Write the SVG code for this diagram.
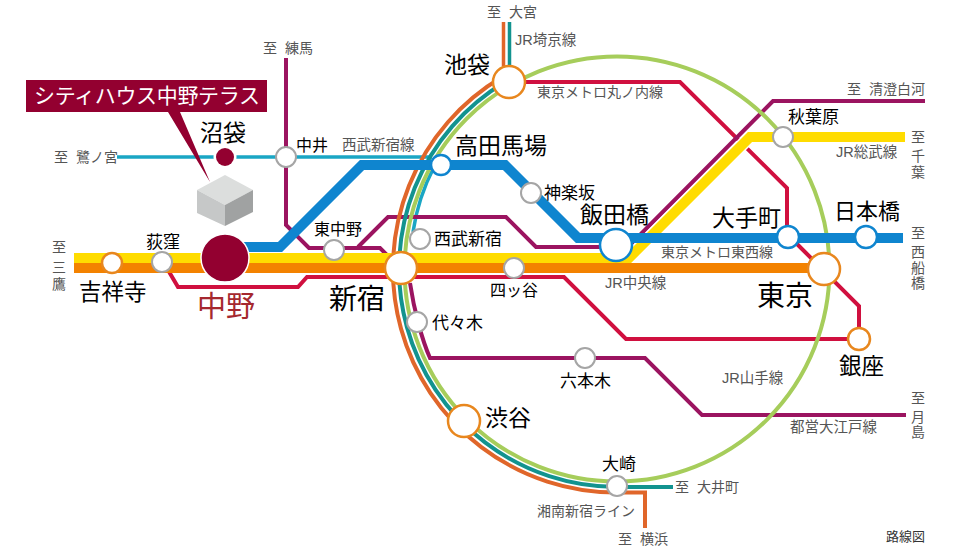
<svg xmlns="http://www.w3.org/2000/svg" width="960" height="550" viewBox="0 0 960 550">
<style>
text{font-family:"Liberation Sans","Noto Sans CJK JP",sans-serif;fill:#000}
.g{fill:#555;word-spacing:4px}
.s13{font-size:13px}.s14{font-size:14px}.s16{font-size:16px}.s17{font-size:17px}.s22{font-size:22.5px}.s23{font-size:23px}.s28{font-size:28px}
.l{fill:none;stroke-linejoin:miter}
.cy{stroke:#1aa6c4;stroke-width:3.5}
.lm{stroke:#a6cd5b;stroke-width:4}
.te{stroke:#12938f;stroke-width:4}
.oe{stroke:#e0662a;stroke-width:4}
.v{stroke-width:3.500}
.pu{stroke:#9b1460;stroke-width:4}
.re{stroke:#d0103f;stroke-width:4}
.or{stroke:#f38200;stroke-width:10}
.ye{stroke:#ffdc00;stroke-width:10}
.bl{stroke:#0f85cf;stroke-width:10}
circle{fill:#fff;stroke-width:2}
.sg{stroke:#a5a5a5}
.so{stroke:#e8871e;stroke-width:2.5}
.sb{stroke:#0f85cf;stroke-width:2.5}
</style>
<g id="connectors">
<path class="l cy" d="M117,157H432"/>
<path class="l cy" d="M434,167A207,207 0 0 0 413,232"/>
<path class="l re" d="M525,82H680L787,188V237M795,242L859,306V339H626L564,277H307L298,287H178L168,270"/>
<path class="l pu" d="M286,58V225L309,248H380L392,260M358,247L388,217H506L536,247H628L773,101H925"/>
<path class="l pu" d="M410,283C414,310 422,340 430,358H645L702,415H906"/>
<path class="l lm" d="M404.500,269a212.500,212.500 0 1 0 425,0a212.500,212.500 0 1 0 -425,0z"/>
<path class="l te" d="M505,82A218,218 0 0 0 617,487H673"/>
<path class="l te v" d="M509.500,22V66"/>
<path class="l oe" d="M502,77A223.500,223.500 0 0 0 617,492.500H645V528"/>
<path class="l oe v" d="M503.500,22V66"/>
<path class="l or" d="M74,268H824"/>
<path class="l" stroke="#fff" stroke-width="13" d="M637,250L750,137H757"/>
<path class="l ye" d="M74,258H629L750,137H905"/>
<path class="l bl" d="M240,247H280L362,165H505L578,238H903"/>
</g>
<g id="building">
<path d="M225,175L253,190L225,205L197,190Z" fill="#dcdedd"/>
<path d="M197,190L225,205V226L197,213Z" fill="#c6c8c8"/>
<path d="M253,190L225,205V226L253,212Z" fill="#a0a2a2"/>
</g>
<g id="callout">
<path d="M26,80H267V112H180L210,182L168,112H26Z" fill="#930030"/>
<text x="34" y="103" font-size="21" textLength="226" style="fill:#fff">シティハウス中野テラス</text>
</g>
<g id="st-numabukuro"><circle cx="225" cy="157" r="11.500" style="fill:#fff;stroke:none"/><circle cx="225" cy="157" r="9" style="fill:#930030;stroke:none"/><text x="200" y="141" class="s23">沼袋</text></g>
<g id="st-nakai"><circle cx="286" cy="157" r="10" class="sg"/><text x="296" y="151" class="s16">中井</text></g>
<g id="st-nakano"><circle cx="225" cy="258" r="24" style="fill:#930030;stroke:#fff;stroke-width:1.500"/><text x="197" y="317" font-size="29" style="fill:#a5282f">中野</text></g>
<g id="st-ogikubo"><circle cx="162" cy="262" r="10" class="sg"/><text x="146" y="248" class="s17">荻窪</text></g>
<g id="st-kichijoji"><circle cx="112" cy="263" r="10" class="so"/><text x="79" y="300" class="s22">吉祥寺</text></g>
<g id="st-higashinakano"><circle cx="334" cy="250" r="10" class="sg"/><text x="314" y="235" class="s16">東中野</text></g>
<g id="st-nishishinjuku"><circle cx="420" cy="239" r="10" class="sg"/><text x="434" y="245" class="s17">西武新宿</text></g>
<g id="st-shinjuku"><circle cx="401" cy="268" r="16" class="so"/><text x="329" y="309" class="s28">新宿</text></g>
<g id="st-yotsuya"><circle cx="514" cy="268" r="10" class="sg"/><text x="490" y="296" class="s16">四ッ谷</text></g>
<g id="st-ikebukuro"><circle cx="509" cy="82" r="16" class="so"/><text x="444" y="73" class="s23">池袋</text></g>
<g id="st-takadanobaba"><circle cx="441" cy="165" r="10" class="sb"/><text x="455" y="154" class="s23">高田馬場</text></g>
<g id="st-kagurazaka"><circle cx="531" cy="193" r="10" class="sg"/><text x="544" y="199" class="s17">神楽坂</text></g>
<g id="st-iidabashi"><circle cx="616" cy="245" r="16" class="sb"/><text x="580" y="223" class="s23">飯田橋</text></g>
<g id="st-akihabara"><circle cx="783" cy="137" r="10" class="sg"/><text x="788" y="123" class="s17">秋葉原</text></g>
<g id="st-otemachi"><circle cx="788" cy="237" r="11" class="sb"/><text x="712" y="226" class="s23">大手町</text></g>
<g id="st-nihombashi"><circle cx="866" cy="237" r="11" class="sb"/><text x="834" y="219" font-size="22">日本橋</text></g>
<g id="st-tokyo"><circle cx="824" cy="269" r="16" class="so"/><text x="757" y="306" class="s28">東京</text></g>
<g id="st-ginza"><circle cx="859" cy="339" r="11" class="so"/><text x="839" y="374" class="s22">銀座</text></g>
<g id="st-yoyogi"><circle cx="417" cy="322" r="10" class="sg"/><text x="432" y="329" class="s17">代々木</text></g>
<g id="st-roppongi"><circle cx="585" cy="358" r="10" class="sg"/><text x="560" y="387" class="s17">六本木</text></g>
<g id="st-shibuya"><circle cx="464" cy="421" r="16" class="so"/><text x="485" y="426" class="s23">渋谷</text></g>
<g id="st-osaki"><circle cx="617" cy="486" r="10" class="sg"/><text x="602" y="470" class="s17">大崎</text></g>
<g id="line-labels">
<text x="263" y="53" class="g s14">至 練馬</text>
<text x="54" y="162" class="g s14">至 鷺ノ宮</text>
<text x="487" y="17" class="g s14">至 大宮</text>
<text x="515" y="45" class="g" font-size="14.500">JR埼京線</text>
<text x="342" y="150" class="g" font-size="14.500">西武新宿線</text>
<text x="537" y="97" class="g s14">東京メトロ丸ノ内線</text>
<text x="847" y="94" class="g s14">至 清澄白河</text>
<text x="836" y="157" class="g" font-size="14.500">JR総武線</text>
<text x="661" y="257" class="g s14">東京メトロ東西線</text>
<text x="605" y="288" class="g" font-size="14.500">JR中央線</text>
<text x="722" y="383" class="g" font-size="14.500">JR山手線</text>
<text x="790" y="432" class="g" font-size="14.500">都営大江戸線</text>
<text x="675" y="492" class="g s14">至 大井町</text>
<text x="537" y="516" class="g s14">湘南新宿ライン</text>
<text x="618" y="544" class="g s14">至 横浜</text>
<text x="886" y="541" class="s13" style="fill:#333">路線図</text>
<text class="g s14" text-anchor="middle"><tspan x="918" y="142">至</tspan><tspan x="918" y="161">千</tspan><tspan x="918" y="177">葉</tspan></text>
<text class="g s14" text-anchor="middle"><tspan x="918" y="238">至</tspan><tspan x="918" y="257">西</tspan><tspan x="918" y="273">船</tspan><tspan x="918" y="288">橋</tspan></text>
<text class="g s14" text-anchor="middle"><tspan x="59" y="252">至</tspan><tspan x="59" y="272">三</tspan><tspan x="59" y="289">鷹</tspan></text>
<text class="g s14" text-anchor="middle"><tspan x="918" y="403">至</tspan><tspan x="918" y="422">月</tspan><tspan x="918" y="437">島</tspan></text>
</g>
</svg>
